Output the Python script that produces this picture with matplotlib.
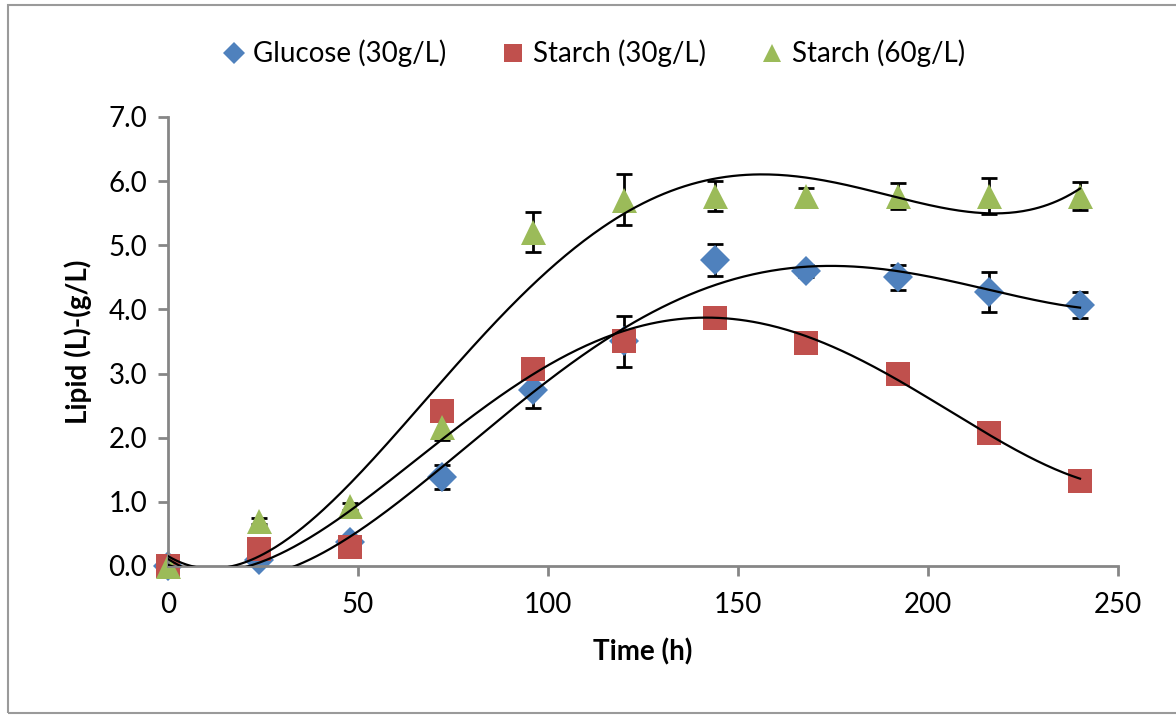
import numpy as np
import matplotlib
matplotlib.use("Agg")
import matplotlib.pyplot as plt
from matplotlib.patches import Rectangle

plt.rcParams['font.family'] = ['Lato', 'DejaVu Sans']

time_h = [0, 24, 48, 72, 96, 120, 144, 168, 192, 216, 240]

glucose_30 = [0.0, 0.1, 0.38, 1.39, 2.75, 3.5, 4.77, 4.6, 4.5, 4.27, 4.07]
glucose_30_err = [0.0, 0.0, 0.0, 0.19, 0.28, 0.4, 0.25, 0.1, 0.19, 0.31, 0.2]

starch_30 = [0.0, 0.27, 0.3, 2.42, 3.07, 3.5, 3.87, 3.48, 3.0, 2.08, 1.33]
starch_30_err = [0.0, 0.05, 0.05, 0.1, 0.1, 0.1, 0.05, 0.05, 0.05, 0.05, 0.05]

starch_60 = [0.0, 0.7, 0.93, 2.17, 5.21, 5.71, 5.77, 5.77, 5.77, 5.77, 5.77]
starch_60_err = [0.0, 0.05, 0.05, 0.2, 0.31, 0.4, 0.23, 0.12, 0.2, 0.28, 0.22]

labels = ['Glucose (30g/L)', 'Starch (30g/L)', 'Starch (60g/L)']
colors = ['#4F81BD', '#C0504D', '#9BBB59']
markers = ['D', 's', '^']
sizes = [15, 17, 18]

fig = plt.figure(figsize=(11.76, 7.15), dpi=100)
ax = fig.add_axes([0.1429, 0.2084, 0.8078, 0.628])

# chart border
fig.patches.append(Rectangle((8 / 1176, 2 / 715), 1.1, 708 / 715, transform=fig.transFigure,
                             fill=False, edgecolor='#9a9a9a', linewidth=1.5))

series = [glucose_30, starch_30, starch_60]
errs = [glucose_30_err, starch_30_err, starch_60_err]
xs = np.array(time_h, dtype=float)
xfit = np.linspace(0, 240, 400)

handles = []
for ys, er, lab, c, m, s in zip(series, errs, labels, colors, markers, sizes):
    ax.errorbar(time_h, ys, yerr=er, fmt='none', ecolor='black', elinewidth=2,
                capsize=6, capthick=2, zorder=1)
    h, = ax.plot(time_h, ys, linestyle='none', marker=m, ms=s, color=c,
                 markeredgewidth=0, label=lab, zorder=2, clip_on=False)
    handles.append(h)

for ys in series:
    # polynomial trendline (order 4), like excel
    coef = np.polyfit(xs, np.array(ys), 4)
    ax.plot(xfit, np.polyval(coef, xfit), color='black', lw=1.6, zorder=3)

ax.set_xlim(0, 250)
ax.set_ylim(0, 7)
ax.set_xticks([0, 50, 100, 150, 200, 250])
ax.set_yticks(np.arange(0, 7.5, 1.0))
ax.set_yticklabels(['%.1f' % v for v in np.arange(0, 7.5, 1.0)])

for side in ['top', 'right']:
    ax.spines[side].set_visible(False)
for side in ['left', 'bottom']:
    ax.spines[side].set_color('#868686')
    ax.spines[side].set_linewidth(2)
ax.tick_params(axis='both', direction='out', length=7, width=2, color='#868686',
               labelsize=20, labelcolor='black')
ax.tick_params(axis='x', pad=12)
ax.tick_params(axis='y', pad=8)

ax.set_xlabel('Time (h)', fontsize=20, fontweight='bold', labelpad=14)
ax.set_ylabel('Lipid (L)-(g/L)', fontsize=20, fontweight='bold', labelpad=12)

fig.legend(handles=handles, loc='center', bbox_to_anchor=(0.505, 0.925), ncol=3,
           frameon=False, fontsize=20, handlelength=0.8, handletextpad=0.3,
           columnspacing=2.0, markerscale=0.75)

fig.savefig('out.png', dpi=100)
